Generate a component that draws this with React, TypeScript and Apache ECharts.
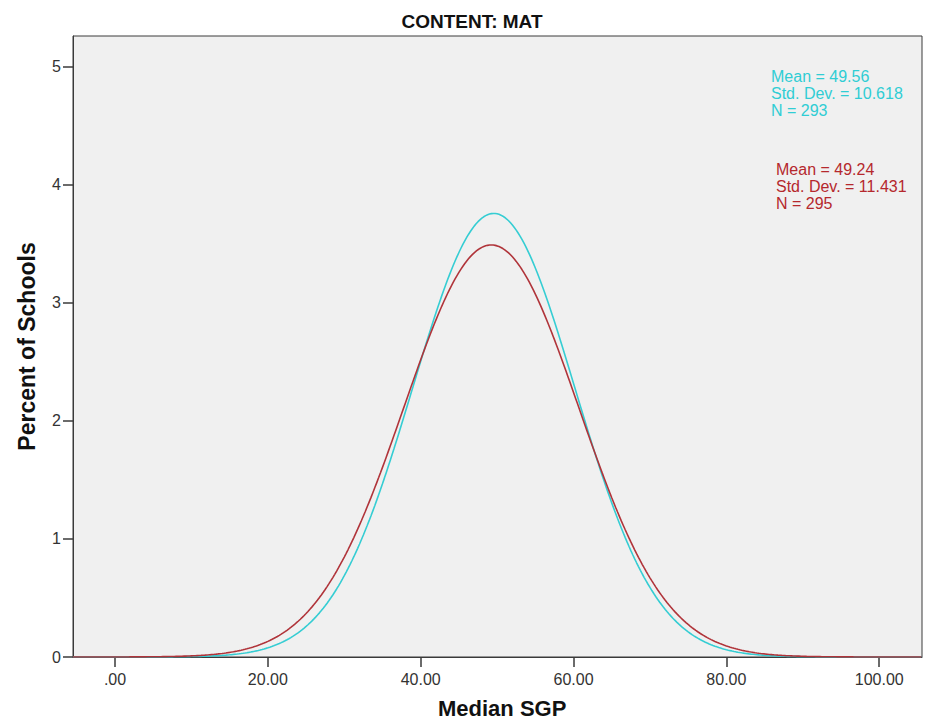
import React, { useEffect, useRef } from "react";
import * as echarts from "echarts";

// Fitted normal curves for each group, from their summary statistics
const groupNames = ["Group A", "Group B"];
const groupMeans = [49.56, 49.24];
const groupStdDevs = [10.618, 11.431];
const groupCounts = [293, 295];
const groupColors = ["#35CDD3", "#B0343A"];
const labelColors = ["#2FCDD4", "#B5282D"];

const xTicks = [0, 20, 40, 60, 80, 100];
const yTicks = [0, 1, 2, 3, 4, 5];
const xMin = -5.5;
const xMax = 105.6;
const yMax = 5.26;

const FONT = "'Liberation Sans', Arial, Helvetica, sans-serif";

// Percent-per-unit normal density for a given mean and SD
function normalPercent(x: number, mean: number, sd: number): number {
  const z = (x - mean) / sd;
  return (100 * Math.exp(-0.5 * z * z)) / (sd * Math.sqrt(2 * Math.PI));
}

function curvePoints(mean: number, sd: number): number[][] {
  const pts: number[][] = [];
  const step = 0.25;
  for (let x = xMin; x <= xMax + 1e-9; x += step) {
    pts.push([x, normalPercent(x, mean, sd)]);
  }
  return pts;
}

export default function App() {
  const ref = useRef<HTMLDivElement>(null);

  useEffect(() => {
    if (!ref.current) return;
    const chart = echarts.init(ref.current, null, { renderer: "svg" });

    const series = groupNames.map((name, i) => ({
      name,
      type: "line" as const,
      data: curvePoints(groupMeans[i], groupStdDevs[i]),
      showSymbol: false,
      smooth: false,
      lineStyle: { color: groupColors[i], width: 1.6 },
      itemStyle: { color: groupColors[i] },
      z: 2 + i,
    }));

    const statBlocks = groupNames.map((_, i) => ({
      type: "text" as const,
      left: i === 0 ? 771 : 776,
      top: i === 0 ? 68 : 161,
      style: {
        text: `Mean = ${groupMeans[i].toFixed(2)}\nStd. Dev. = ${groupStdDevs[i].toFixed(3)}\nN = ${groupCounts[i]}`,
        fill: labelColors[i],
        font: `16px ${FONT}`,
        lineHeight: 17,
      },
      z: 10,
    }));

    chart.setOption({
      animation: false,
      backgroundColor: "#FFFFFF",
      title: {
        text: "CONTENT: MAT",
        left: 467,
        top: 7,
        textAlign: "center",
        textStyle: { fontFamily: FONT, fontSize: 19, fontWeight: "bold", color: "#111" },
      },
      grid: {
        left: 73,
        right: 4,
        top: 36,
        bottom: 68,
        show: true,
        backgroundColor: "#F0F0F0",
        borderColor: "#3A3A3A",
        borderWidth: 1,
      },
      xAxis: {
        type: "value",
        min: xMin,
        max: xMax,
        axisLine: { show: true, onZero: false, lineStyle: { color: "#3A3A3A", width: 1 } },
        axisTick: { show: true, length: 10, customValues: xTicks, lineStyle: { color: "#3A3A3A", width: 1.5 } },
        axisLabel: {
          customValues: xTicks,
          margin: 14,
          fontFamily: FONT,
          fontSize: 16,
          color: "#333",
          formatter: (v: number) => (v === 0 ? ".00" : v.toFixed(2)),
        },
        splitLine: { show: false },
      },
      yAxis: {
        type: "value",
        min: 0,
        max: yMax,
        name: "Percent of Schools",
        nameLocation: "middle",
        nameGap: 35,
        nameTextStyle: { fontFamily: FONT, fontSize: 23, fontWeight: "bold", color: "#111" },
        axisLine: { show: true, onZero: false, lineStyle: { color: "#3A3A3A", width: 1 } },
        axisTick: { show: true, length: 10, customValues: yTicks, lineStyle: { color: "#3A3A3A", width: 1.5 } },
        axisLabel: {
          customValues: yTicks,
          margin: 12,
          fontFamily: FONT,
          fontSize: 16,
          color: "#333",
        },
        splitLine: { show: false },
      },
      series,
      graphic: [
        ...statBlocks,
        {
          type: "text",
          left: 438,
          top: 697,
          style: {
            text: "Median SGP",
            fill: "#111",
            font: `bold 22px ${FONT}`,
          },
        },
      ],
    });

    return () => chart.dispose();
  }, []);

  return (
    <div
      ref={ref}
      style={{ position: "fixed", left: 0, top: 0, width: 926, height: 725 }}
    />
  );
}
